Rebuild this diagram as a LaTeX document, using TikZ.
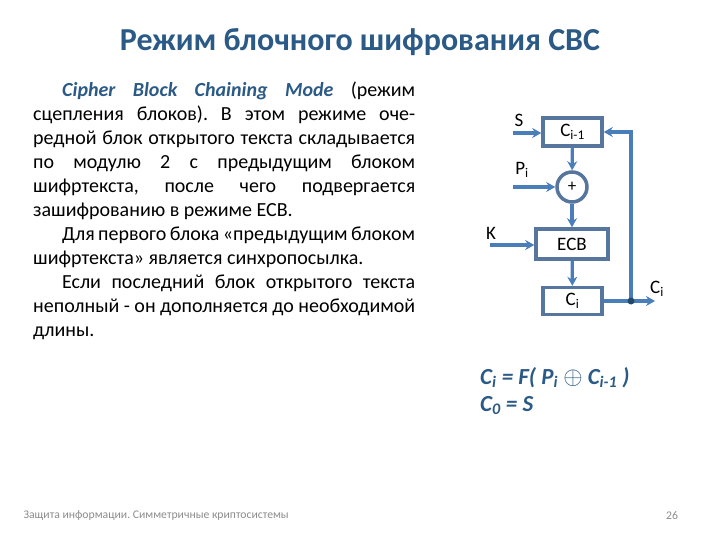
\documentclass[tikz,border=0pt]{standalone}
\usepackage{fontspec}
\setmainfont{Carlito}
\usetikzlibrary{arrows.meta}
\definecolor{titleblue}{HTML}{2B5A87}
\definecolor{lineblue}{HTML}{4A7EBB}
\definecolor{boxblue}{HTML}{56769E}
\definecolor{footgrey}{HTML}{8C8C8C}
\frenchspacing
\begin{document}
\begin{tikzpicture}[x=1pt, y=-1pt,
    block/.style={draw=boxblue, line width=3.5pt, minimum width=59pt, minimum height=28pt, inner sep=0pt, font=\fontsize{19}{21}\selectfont},
    xorcirc/.style={circle, draw=boxblue, line width=3.5pt, minimum size=30pt, inner sep=0pt, font=\fontsize{17}{19}\selectfont},
    flow/.style={-{Stealth[length=9pt, width=10pt]}, draw=lineblue, line width=3.2pt}, % Arrow of the data flow
    lbl/.style={inner sep=0pt, font=\fontsize{19}{21}\selectfont}
]
    \useasboundingbox (0,0) rectangle (720,540);

    % Title
    \node[font=\fontsize{32}{36}\selectfont\bfseries, text=titleblue] (title) at (360,42) {Режим блочного шифрования CBC};

    % Text on the left
    \node[anchor=north west, inner sep=0pt, text width=382pt, align=justify, font=\fontsize{20}{24}\selectfont] (body) at (33,82) {%
        \hspace*{29pt}\textcolor{titleblue}{\textbf{\textit{Cipher Block Chaining Mode}}} (режим\linebreak
        сцепления блоков). В этом режиме оче-\linebreak
        редной блок открытого текста складывается\linebreak
        по модулю 2 с предыдущим блоком\linebreak
        шифртекста, после чего подвергается\linebreak
        зашифрованию в режиме ECB.\par
        \hspace*{29pt}Для первого блока «предыдущим блоком\linebreak
        шифртекста» является синхропосылка.\par
        \hspace*{29pt}Если последний блок открытого текста\linebreak
        неполный - он дополняется до необходимой\linebreak
        длины.};

    % Blocks of the scheme
    \node[block] (cprev) at (572.5,132) {C\textsubscript{i-1}};
    \node[xorcirc] (xor) at (572,187) {+};
    \node[block, minimum width=72pt, minimum height=30pt] (ecb) at (572,244) {ECB};
    \node[block, minimum height=27pt] (ci) at (572.5,301) {C\textsubscript{i}};

    % Inputs
    \coordinate (sin) at (513,133);
    \coordinate (pin) at (513,187);
    \coordinate (kin) at (490,245);
    \node[lbl] (slbl) at (519,120) {S};
    \node[lbl] (plbl) at (522,170) {P\textsubscript{i}};
    \node[lbl] (klbl) at (491,233) {K};

    \draw[flow] (sin) -- (sin -| cprev.west);
    \draw[flow] (pin) -- (xor.west);
    \draw[flow] (kin) -- (kin -| ecb.west);

    % Main flow
    \draw[flow] (cprev) -- (xor);
    \draw[flow] (xor) -- (ecb);
    \draw[flow] (ecb) -- (ci);

    % Output and feedback
    \coordinate (tap) at (631,301);
    \coordinate (cout) at (655,301);
    \node[lbl] (olbl) at (657,289) {C\textsubscript{i}};
    \draw[flow] (ci.east) -- (cout);
    \draw[flow] (tap) |- (cprev.east);
    \fill[titleblue!80!black] (tap) circle (3.5pt);

    % Formula
    \node[anchor=north west, inner sep=0pt, align=left, text=titleblue, font=\fontsize{23}{27}\selectfont\bfseries\itshape] (formula) at (480,367) {%
        C\textsubscript{i} = F( P\textsubscript{i} $\oplus$ C\textsubscript{i-1} )\\
        C\textsubscript{0} = S};

    % Footer
    \node[anchor=west, text=footgrey, font=\fontsize{11.7}{13}\selectfont] (foot) at (20,516) {Защита информации. Симметричные криптосистемы};
    \node[text=footgrey, font=\fontsize{11.7}{13}\selectfont] (page) at (672,516) {26};
\end{tikzpicture}
\end{document}
